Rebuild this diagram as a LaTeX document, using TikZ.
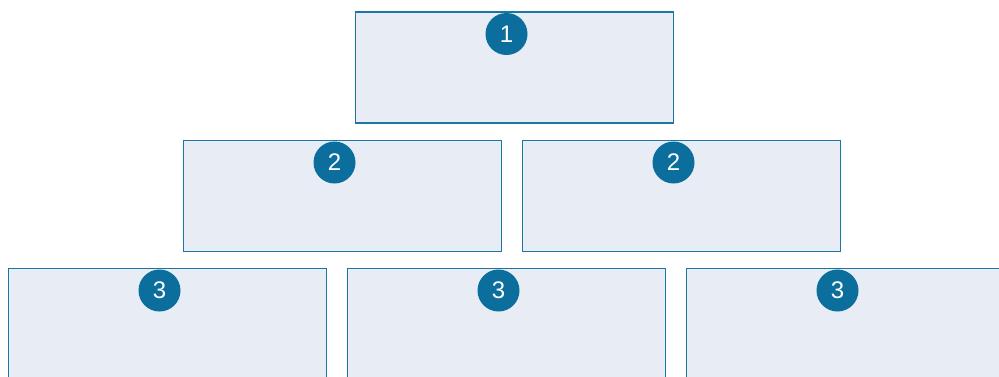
\documentclass[tikz,border=0pt]{standalone}
\usepackage{fontspec}
\setmainfont{Liberation Sans}
\definecolor{numblue}{HTML}{0B6E9C}
\definecolor{boxline}{HTML}{1C76A2}
\definecolor{boxfill}{HTML}{E7ECF5}
\begin{document}
\begin{tikzpicture}[x=1pt,y=-1pt,
  box/.style={draw=boxline, fill=boxfill, line width=1.6pt, minimum width=318pt, minimum height=111pt, anchor=north west, inner sep=0pt, outer sep=0pt},
  num/.style={circle, fill=numblue, text=white, minimum size=42pt, inner sep=0pt, font=\fontsize{24}{24}\selectfont}]
\useasboundingbox (0,0) rectangle (999,376);
\clip (0,0) rectangle (999,376);
\node[box] (b1) at (355.5,12) {};
\node[box] (b2a) at (183.5,140.5) {};
\node[box] (b2b) at (522.5,140.5) {};
\node[box] (b3a) at (8.5,268.5) {};
\node[box] (b3b) at (347.5,268.5) {};
\node[box] (b3c) at (686.5,268.5) {};
\node[num] (n1) at ([xshift=-8pt,yshift=-22pt]b1.north) {1};
\node[num] (n2a) at ([xshift=-8pt,yshift=-22pt]b2a.north) {2};
\node[num] (n2b) at ([xshift=-8pt,yshift=-22pt]b2b.north) {2};
\node[num] (n3a) at ([xshift=-8pt,yshift=-22pt]b3a.north) {3};
\node[num] (n3b) at ([xshift=-8pt,yshift=-22pt]b3b.north) {3};
\node[num] (n3c) at ([xshift=-8pt,yshift=-22pt]b3c.north) {3};
\end{tikzpicture}
\end{document}
